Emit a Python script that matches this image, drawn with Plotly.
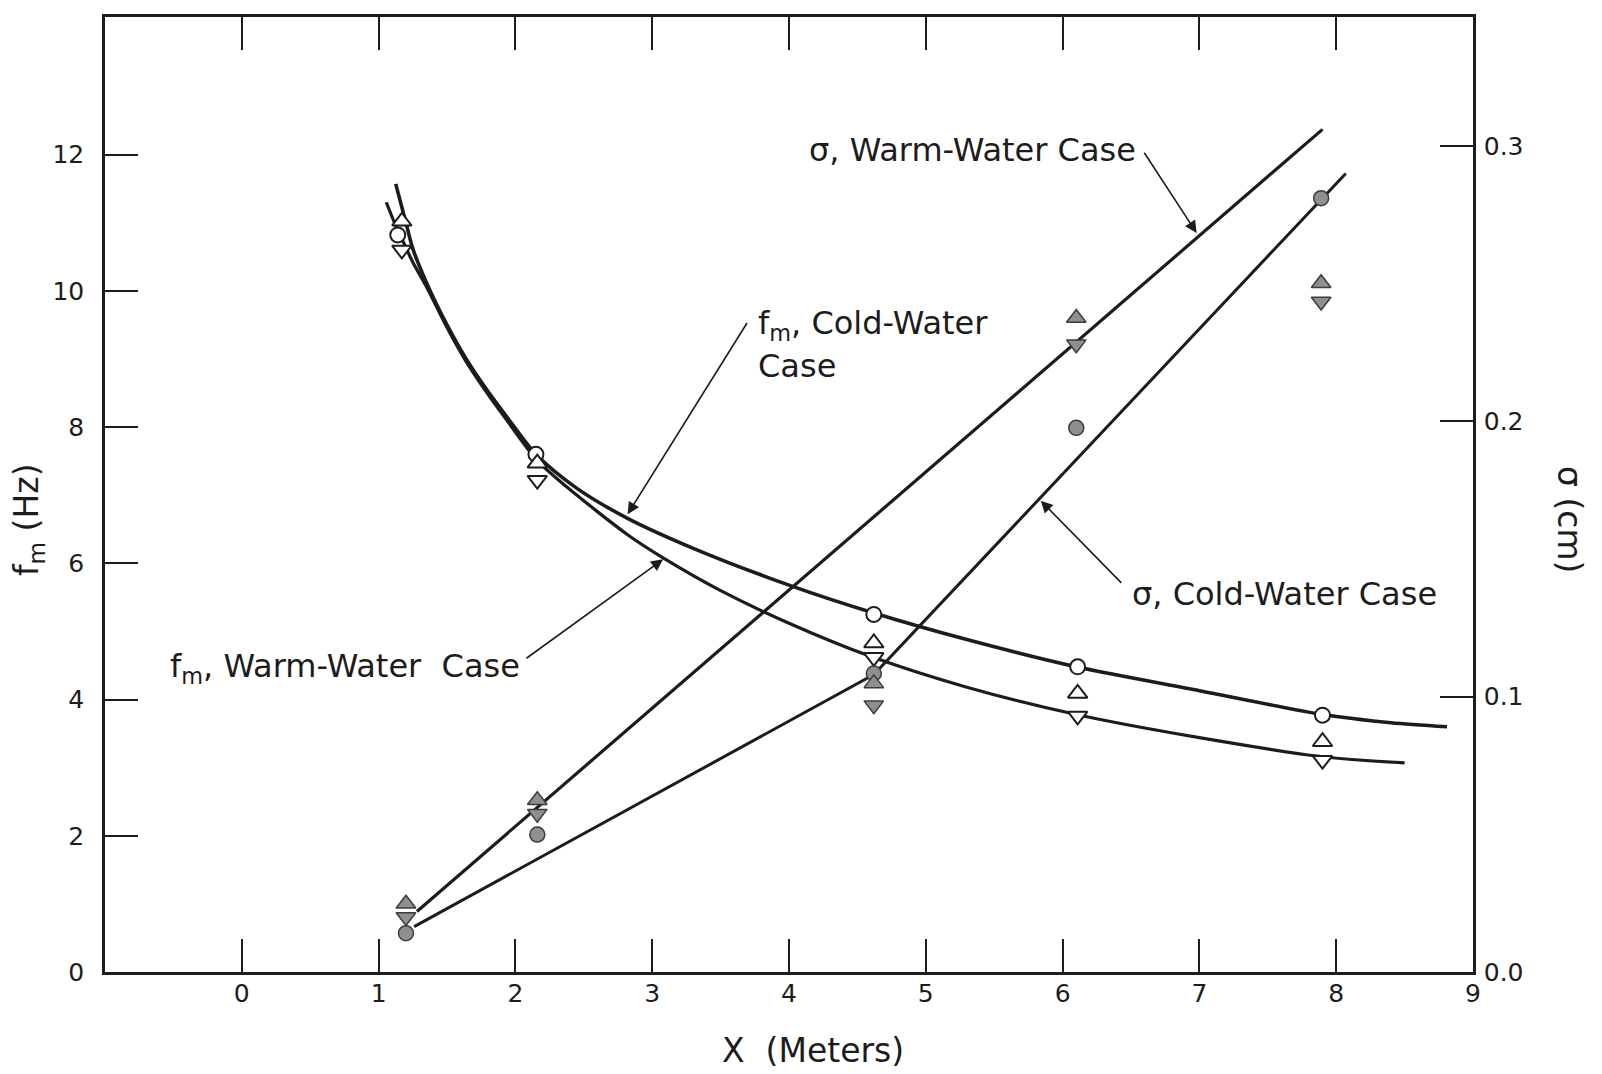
import plotly.graph_objects as go

FONT = "DejaVu Sans"
INK = "#1c1c1c"
GRAY_FILL = "#8f8f8f"
GRAY_EDGE = "#3c3c3c"

# ---- measured peak frequency f_m (Hz) ----
x_fm_cold = [1.14, 2.15, 4.62, 6.11, 7.90]
fm_cold = [10.82, 7.60, 5.25, 4.48, 3.77]

x_fm_warm = [1.17, 2.16, 4.62, 6.11, 7.90]
fm_warm_up = [11.02, 7.47, 4.83, 4.09, 3.38]
fm_warm_down = [10.60, 7.22, 4.62, 3.76, 3.11]

# ---- measured sigma (cm) ----
x_sig = [1.20, 2.16, 4.62, 6.10, 7.89]
sig_cold = [0.0141, 0.0499, 0.1084, 0.1976, 0.2810]
sig_warm_up = [0.0248, 0.0624, 0.1048, 0.2375, 0.2501]
sig_warm_down = [0.0200, 0.0575, 0.0969, 0.2280, 0.2435]

# ---- faired curves ----
fit_fm_cold_x = [1.125, 1.20, 1.25, 1.35, 1.50, 1.64, 1.80, 1.93, 2.15, 2.45,
                 2.82, 3.30, 4.00, 4.62, 5.30, 6.10, 7.00, 7.90, 8.40, 8.81]
fit_fm_cold_y = [11.57, 11.00, 10.62, 10.12, 9.50, 9.00, 8.52, 8.17, 7.60, 7.10,
                 6.66, 6.22, 5.68, 5.27, 4.88, 4.48, 4.13, 3.78, 3.66, 3.60]

fit_fm_warm_x = [1.056, 1.12, 1.18, 1.25, 1.35, 1.50, 1.64, 1.80, 1.93, 2.15, 2.37,
                 2.82, 3.08, 3.49, 4.00, 4.60, 5.30, 6.10, 7.00, 7.90, 8.50]
fit_fm_warm_y = [11.30, 10.98, 10.72, 10.42, 10.06, 9.46, 8.96, 8.48, 8.12, 7.53, 7.13,
                 6.42, 6.08, 5.61, 5.12, 4.63, 4.18, 3.78, 3.44, 3.16, 3.07]

fit_sig_warm_x = [1.28, 7.90]
fit_sig_warm_y = [0.0220, 0.3060]

fit_sig_cold_x = [1.26, 4.62, 8.07]
fit_sig_cold_y = [0.0165, 0.1080, 0.2900]

# axis ticks
x_ticks = list(range(0, 10))
fm_ticks = [0, 2, 4, 6, 8, 10, 12]
sig_ticks = [0.0, 0.1, 0.2, 0.3]

W, H = 1602, 1074
L, R, T, B = 105, 129, 17, 102

fig = go.Figure()

# faired curves
fig.add_trace(go.Scatter(x=fit_fm_cold_x, y=fit_fm_cold_y, mode="lines",
                         line=dict(color=INK, width=3.6, shape="spline", smoothing=0.8),
                         yaxis="y"))
fig.add_trace(go.Scatter(x=fit_fm_warm_x, y=fit_fm_warm_y, mode="lines",
                         line=dict(color=INK, width=3.2, shape="spline", smoothing=0.8),
                         yaxis="y"))
fig.add_trace(go.Scatter(x=fit_sig_warm_x, y=fit_sig_warm_y, mode="lines",
                         line=dict(color=INK, width=3.2), yaxis="y2"))
fig.add_trace(go.Scatter(x=fit_sig_cold_x, y=fit_sig_cold_y, mode="lines",
                         line=dict(color=INK, width=3.0), yaxis="y2"))

# sigma markers (filled gray)
gray_marker = dict(color=GRAY_FILL, line=dict(color=GRAY_EDGE, width=1.5))
fig.add_trace(go.Scatter(x=x_sig, y=sig_cold, mode="markers", yaxis="y2",
                         marker=dict(symbol="circle", size=15, **gray_marker)))
fig.add_trace(go.Scatter(x=x_sig, y=sig_warm_up, mode="markers", yaxis="y2",
                         marker=dict(symbol="triangle-up", size=17, **gray_marker)))
fig.add_trace(go.Scatter(x=x_sig, y=sig_warm_down, mode="markers", yaxis="y2",
                         marker=dict(symbol="triangle-down", size=17, **gray_marker)))

# f_m markers (open)
open_marker = dict(color="white", line=dict(color=INK, width=2))
fig.add_trace(go.Scatter(x=x_fm_cold, y=fm_cold, mode="markers", yaxis="y",
                         marker=dict(symbol="circle", size=15, **open_marker)))
fig.add_trace(go.Scatter(x=x_fm_warm, y=fm_warm_up, mode="markers", yaxis="y",
                         marker=dict(symbol="triangle-up", size=17, **open_marker)))
fig.add_trace(go.Scatter(x=x_fm_warm, y=fm_warm_down, mode="markers", yaxis="y",
                         marker=dict(symbol="triangle-down", size=17, **open_marker)))

label_font = dict(family=FONT, size=32, color=INK)

# callout arrows (head at x,y ; tail at ax,ay), in x / f_m units
arrows = [
    (6.98, 10.85, 6.59, 12.05),   # sigma, warm
    (2.82, 6.72, 3.70, 9.55),     # f_m, cold
    (3.08, 6.06, 2.07, 4.59),     # f_m, warm
    (5.84, 6.92, 6.44, 5.69),     # sigma, cold
]
for hx, hy, tx, ty in arrows:
    fig.add_annotation(x=hx, y=hy, ax=tx, ay=ty, xref="x", yref="y",
                       axref="x", ayref="y", text="", showarrow=True,
                       arrowhead=2, arrowsize=1.5, arrowwidth=1.6,
                       arrowcolor=INK, standoff=0, startstandoff=0)

# callout texts
fig.add_annotation(x=6.55, y=12.07, xref="x", yref="y", text="σ, Warm-Water Case",
                   showarrow=False, xanchor="right", yanchor="middle", font=label_font)
fig.add_annotation(x=3.76, y=9.50, xref="x", yref="y", text="f<sub>m</sub>, Cold-Water",
                   showarrow=False, xanchor="left", yanchor="middle", font=label_font)
fig.add_annotation(x=3.76, y=8.90, xref="x", yref="y", text="Case",
                   showarrow=False, xanchor="left", yanchor="middle", font=label_font)
fig.add_annotation(x=2.05, y=4.46, xref="x", yref="y",
                   text="f<sub>m</sub>, Warm-Water\u00a0\u00a0Case",
                   showarrow=False, xanchor="right", yanchor="middle", font=label_font)
fig.add_annotation(x=6.49, y=5.55, xref="x", yref="y", text="σ, Cold-Water Case",
                   showarrow=False, xanchor="left", yanchor="middle", font=label_font)

# axis titles
def px_to_paper(px, py):
    return (px - L) / (W - L - R), (H - B - py) / (H - B - T)

title_font = dict(family=FONT, size=33, color=INK)
tx, ty = px_to_paper(813, 1050)
fig.add_annotation(x=tx, y=ty, xref="paper", yref="paper", text="X\u00a0\u00a0(Meters)",
                   showarrow=False, xanchor="center", yanchor="middle", font=title_font)
tx, ty = px_to_paper(28, 520)
fig.add_annotation(x=tx, y=ty, xref="paper", yref="paper", text="f<sub>m</sub> (Hz)",
                   textangle=-90, showarrow=False, xanchor="center", yanchor="middle",
                   font=title_font)
tx, ty = px_to_paper(1570, 519)
fig.add_annotation(x=tx, y=ty, xref="paper", yref="paper", text="σ (cm)",
                   textangle=90, showarrow=False, xanchor="center", yanchor="middle",
                   font=title_font)

tick_font = dict(family=FONT, size=25, color=INK)
axis_common = dict(showgrid=False, zeroline=False, showline=True, linecolor=INK,
                   linewidth=2.5, ticks="inside", ticklen=33, tickwidth=2,
                   tickcolor=INK, tickfont=tick_font)

fig.update_layout(
    width=W, height=H,
    margin=dict(l=L, r=R, t=T, b=B),
    paper_bgcolor="white", plot_bgcolor="white",
    showlegend=False,
    font=dict(family=FONT, color=INK),
    xaxis=dict(range=[-1, 9], tickvals=x_ticks, mirror="ticks",
               ticklabelstandoff=-3, **axis_common),
    yaxis=dict(range=[0, 14.02], tickvals=fm_ticks, ticklabelstandoff=13,
               **axis_common),
    yaxis2=dict(range=[0, 0.3468], tickvals=sig_ticks,
                ticktext=[f"{v:.1f}" for v in sig_ticks], overlaying="y",
                side="right", ticklabelstandoff=3, **axis_common),
)

fig.write_html("out.html")
